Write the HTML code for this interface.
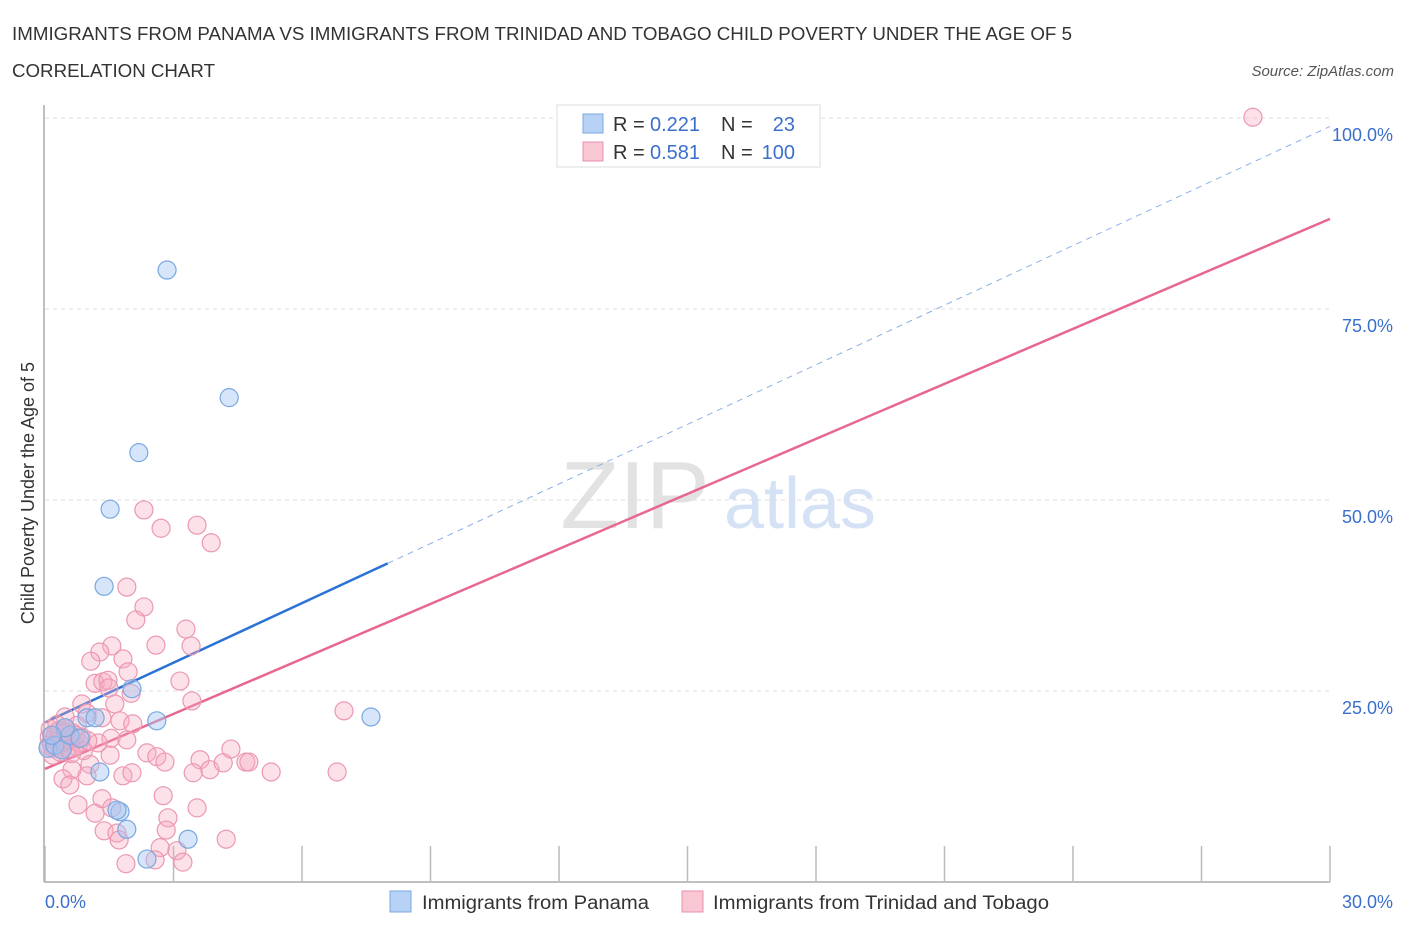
<!DOCTYPE html>
<html><head><meta charset="utf-8">
<style>
body{margin:0;background:#fff;font-family:"Liberation Sans",sans-serif;}
svg text{font-family:"Liberation Sans",sans-serif;}
</style></head>
<body>
<svg id="chart" width="1406" height="930" xmlns="http://www.w3.org/2000/svg">
<text x="12" y="40" font-size="18" fill="#333" textLength="1060" lengthAdjust="spacingAndGlyphs">IMMIGRANTS FROM PANAMA VS IMMIGRANTS FROM TRINIDAD AND TOBAGO CHILD POVERTY UNDER THE AGE OF 5</text>
<text x="12" y="77" font-size="18" fill="#333" textLength="203" lengthAdjust="spacingAndGlyphs">CORRELATION CHART</text>
<text x="1394" y="76" font-size="15" fill="#555" font-style="italic" text-anchor="end">Source: ZipAtlas.com</text>
<text transform="translate(34,493) rotate(-90)" font-size="18" fill="#333" text-anchor="middle">Child Poverty Under the Age of 5</text>
<g>
<text x="635" y="528" font-size="96" fill="#e2e2e2" font-family="Liberation Serif" text-anchor="middle">ZIP</text>
<text x="800" y="528" font-size="72" fill="#d5e2f5" text-anchor="middle">atlas</text>
</g>
<g id="grid"></g>
<g id="axes"></g>
<g id="lines"></g>
<g id="points"></g>
<g>
<rect x="557" y="105" width="263" height="62" fill="#fff" stroke="#ddd"/>
<rect x="583" y="114" width="20" height="19" fill="#b8d2f6" stroke="#7aa8e0"/>
<rect x="583" y="142" width="20" height="19" fill="#f9c6d4" stroke="#e890ab"/>
<text x="613" y="131" font-size="20" fill="#333">R =</text>
<text x="650" y="131" font-size="20" fill="#3b6fcc">0.221</text>
<text x="721" y="131" font-size="20" fill="#333">N =</text>
<text x="795" y="131" font-size="20" fill="#3b6fcc" text-anchor="end">23</text>
<text x="613" y="159" font-size="20" fill="#333">R =</text>
<text x="650" y="159" font-size="20" fill="#3b6fcc">0.581</text>
<text x="721" y="159" font-size="20" fill="#333">N =</text>
<text x="795" y="159" font-size="20" fill="#3b6fcc" text-anchor="end">100</text>
</g>
<g>
<rect x="390" y="891" width="21" height="21" fill="#b8d2f6" stroke="#7aa8e0"/>
<text x="422" y="909" font-size="19" fill="#333" textLength="227" lengthAdjust="spacingAndGlyphs">Immigrants from Panama</text>
<rect x="682" y="891" width="21" height="21" fill="#f9c6d4" stroke="#e890ab"/>
<text x="713" y="909" font-size="19" fill="#333" textLength="336" lengthAdjust="spacingAndGlyphs">Immigrants from Trinidad and Tobago</text>
</g>
</svg>
<script>
const blueX=[2.85,4.30,2.19,1.52,1.38,2.03,2.61,7.61,1.28,1.75,1.68,1.91,2.38,3.34,0.07,0.23,0.4,0.58,0.82,0.98,1.17,0.47,0.16];
const blueY=[80.1,63.4,56.2,48.8,38.7,25.3,21.1,21.6,14.4,9.2,9.4,6.9,3.0,5.6,17.5,17.9,17.3,19.2,18.8,21.5,21.5,20.2,19.2];
const pinkX=[1.91,2.31,2.12,3.29,3.41,2.59,1.56,1.28,1.07,1.82,1.94,1.17,1.35,1.47,1.49,3.15,3.43,2.01,1.63,0.86,1.75,2.05,1.33,0.98,0.47,1.54,1.91,1.24,1.52,2.38,2.61,2.80,4.34,3.62,3.85,4.16,3.46,4.69,4.76,5.28,6.82,6.98,1.05,0.63,0.42,0.58,0.98,1.82,2.03,2.76,1.33,0.77,1.17,1.56,2.87,3.55,2.83,1.38,1.68,1.73,4.23,2.69,3.08,2.57,3.22,1.89,2.31,2.71,3.55,3.88,28.2,
0.1,0.15,0.2,0.25,0.3,0.35,0.4,0.45,0.5,0.55,0.6,0.65,0.7,0.75,0.8,0.85,0.9,0.12,0.22,0.32,0.42,0.52,0.62,0.72,0.08,0.18,0.28,0.38,0.48,1.0];
const pinkY=[38.6,36.0,34.3,33.1,30.9,31.0,30.9,30.1,28.9,29.2,27.5,26.0,26.2,26.4,25.4,26.3,23.7,24.7,23.3,23.3,21.1,20.7,21.5,22.1,21.6,18.8,18.6,18.2,16.6,16.9,16.4,15.7,17.4,16.0,14.7,15.6,14.3,15.7,15.7,14.4,14.4,22.4,15.4,14.7,13.5,12.7,13.9,13.9,14.3,11.3,10.9,10.1,9.0,9.7,8.4,9.7,6.8,6.7,6.4,5.5,5.6,4.5,4.1,2.9,2.6,2.4,48.7,46.3,46.7,44.4,100.1,
19,18,17.5,19.5,18.5,17,19,18,20,17.5,18.8,19.5,17.8,20.5,18.2,19,17.2,20,18.8,19.8,17.6,18.6,16.8,19.2,17.8,16.6,20.6,18.2,19.6,18.5];
const yTicks=[25,50,75,100];
const yTickLabels=["25.0%","50.0%","75.0%","100.0%"];
const xTicks=[0,3,6,9,12,15,18,21,24,27,30];
const blueTrend=[20.9,2.6];
const blueSolidEnd=8.0;
const pinkTrend=[14.8,2.4];

const sx=v=>45+v*(1285/30);
const sy=v=>882-v*7.64;
const NS="http://www.w3.org/2000/svg";
function mk(tag,attrs,parent){const e=document.createElementNS(NS,tag);for(const k in attrs)e.setAttribute(k,attrs[k]);document.getElementById(parent).appendChild(e);return e;}

yTicks.forEach((t,i)=>{
 const g=mk('line',{x1:45,x2:1330,y1:sy(t),y2:sy(t),stroke:'#ddd','stroke-dasharray':'4,4'},'grid');
 
 
 const l=mk('text',{x:1393,y:sy(t)+23,'font-size':18,fill:'#3b6fcc','text-anchor':'end'},'axes');
 l.textContent=yTickLabels[i];
 
 
});
const ax=mk('line',{x1:44,x2:44,y1:105,y2:882,stroke:'#aaa','stroke-width':1.5},'axes');


const bx=mk('line',{x1:44,x2:1330,y1:882,y2:882,stroke:'#aaa','stroke-width':1.5},'axes');


xTicks.forEach(t=>{
 const tk=mk('line',{x1:sx(t),x2:sx(t),y1:846,y2:882,stroke:'#bbb','stroke-width':1.5},'axes');
 
 
});
const xl0=mk('text',{x:45,y:908,'font-size':18,fill:'#3b6fcc'},'axes');xl0.textContent='0.0%';


const xl1=mk('text',{x:1393,y:908,'font-size':18,fill:'#3b6fcc','text-anchor':'end'},'axes');xl1.textContent='30.0%';



const b1=mk('line',{x1:sx(0),y1:sy(blueTrend[0]),x2:sx(blueSolidEnd),y2:sy(blueTrend[0]+blueTrend[1]*blueSolidEnd),stroke:'#2a72d6','stroke-width':2.5},'lines');


const b2=mk('line',{x1:sx(blueSolidEnd),y1:sy(blueTrend[0]+blueTrend[1]*blueSolidEnd),x2:sx(30),y2:sy(blueTrend[0]+blueTrend[1]*30),stroke:'#8ab0e6','stroke-width':1,'stroke-dasharray':'6,5'},'lines');


const p1=mk('line',{x1:sx(0),y1:sy(pinkTrend[0]),x2:sx(30),y2:sy(pinkTrend[0]+pinkTrend[1]*30),stroke:'#e8678f','stroke-width':2.5},'lines');



pinkX.forEach((x,i)=>{
 const c=mk('circle',{cx:sx(x),cy:sy(pinkY[i]),r:9,fill:'rgba(246,168,192,0.35)',stroke:'#eb98b2','stroke-width':1.2},'points');
 
 
});
blueX.forEach((x,i)=>{
 const c=mk('circle',{cx:sx(x),cy:sy(blueY[i]),r:9,fill:'rgba(165,198,242,0.45)',stroke:'#7aa8e0','stroke-width':1.2},'points');
 
 
});
</script>
</body></html>
